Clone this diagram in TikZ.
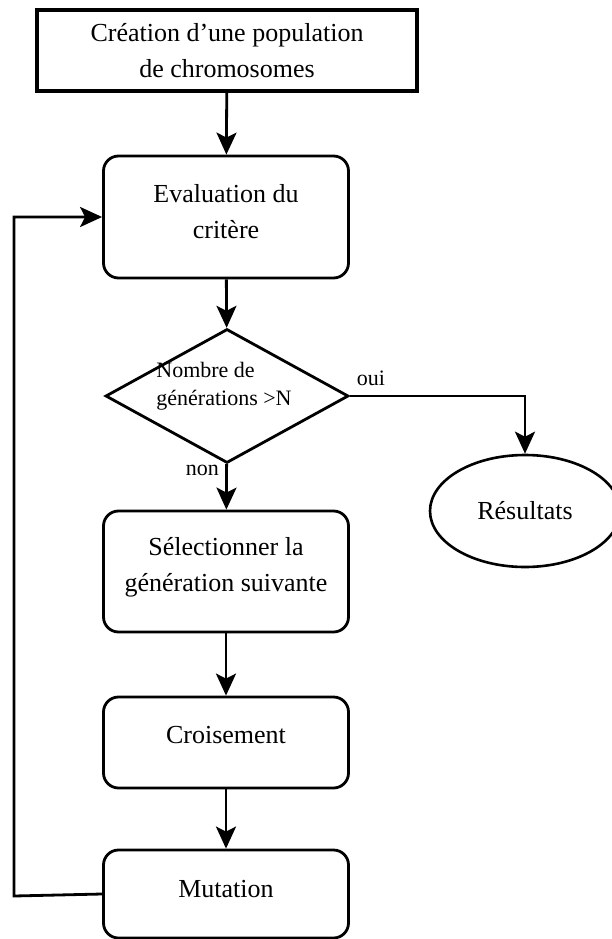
\documentclass[tikz,border=0pt]{standalone}
\usepackage{fontspec}
\setmainfont{Liberation Serif}
\usetikzlibrary{arrows.meta,shapes.geometric}

\tikzset{
    boxstyle/.style={draw, line width=2.8pt, rounded corners=15pt, minimum width=245pt, align=center,
        font=\fontsize{26}{36}\selectfont},
    flow/.style={-{Stealth[length=22pt,width=20pt,inset=5pt]}, line width=2.8pt},
    small/.style={font=\fontsize{22}{28}\selectfont}
}

\begin{document}
\begin{tikzpicture}[x=1pt,y=-1pt]

% Fix the size of the page
\useasboundingbox (0,0) rectangle (612,939);

% Define the column of the main boxes
\def\Xmid{226} % x of the main column
\def\Xloop{14} % x of the loop line

% Draw the boxes
\node[draw, line width=3.2pt, minimum width=380pt, minimum height=81pt, align=center,
    font=\fontsize{26}{36}\selectfont] (init) at (227,50.5) {Création d’une population\\de chromosomes};
\node[boxstyle, minimum height=122pt, text depth=11pt] (eval) at (\Xmid,217) {Evaluation du\\critère};
\node[draw, diamond, line width=2.8pt, minimum width=243pt, minimum height=134pt, inner sep=0pt,
    label={[small, align=left, xshift=-3pt, yshift=10pt]center:Nombre de\\générations >N}] (test) at (227,396) {};
\node[draw, ellipse, line width=2.6pt, minimum width=190pt, minimum height=112pt,
    font=\fontsize{26}{36}\selectfont] (res) at (525,511) {Résultats};
\node[boxstyle, minimum height=121pt, text depth=14pt] (select) at (\Xmid,571.5) {Sélectionner la\\génération suivante};
\node[boxstyle, minimum height=91pt, text depth=16pt] (cross) at (\Xmid,742.5) {Croisement};
\node[boxstyle, minimum height=88pt, text depth=11pt] (mut) at (\Xmid,894) {Mutation};

% Draw the arrows
\draw[flow] (init) -- (eval);
\draw[flow] (eval) -- (test);
\draw[flow] (test) -- (select) node[small, pos=0.14, left=3pt] (no) {non};
\draw[flow] (test.east) -| (res.north) node[small, pos=0.06, above=6pt] (yes) {oui};
\draw[flow] (select) -- (cross);
\draw[flow] (cross) -- (mut);

% Loop back to the evaluation
\coordinate (loopbot) at (\Xloop,896);
\coordinate (looptop) at (\Xloop,217);
\draw[flow] (mut.west) -- (loopbot) -- (looptop) -- (eval.west |- looptop);

\end{tikzpicture}
\end{document}
